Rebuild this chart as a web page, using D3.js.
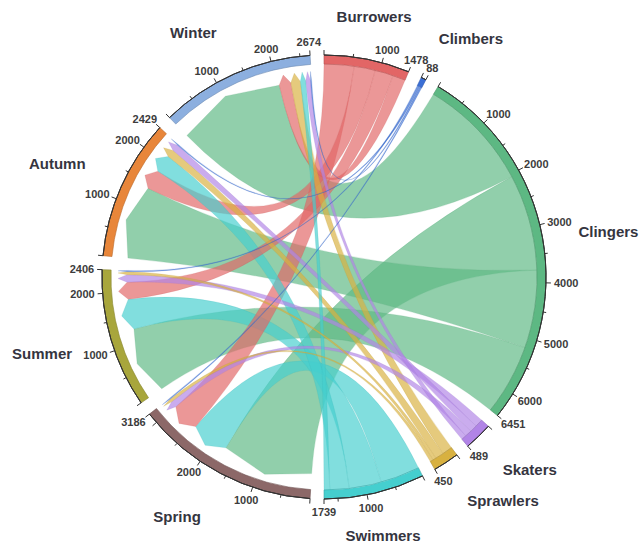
<!DOCTYPE html>
<html lang="en">
<head>
<meta charset="UTF-8">
<title>Seasonal chord diagram</title>
<style>
  body { margin: 0; background: #fff; }
  svg { display: block; font-family: "Liberation Sans", Arial, sans-serif; }
</style>
</head>
<body>
<svg width="640" height="545"></svg>
<script src="https://d3js.org/d3.v7.min.js"></script>
<script>
  // functional groups (right half) and seasons (left half)
  var groups = ["Burrowers", "Climbers", "Clingers", "Skaters", "Sprawlers", "Swimmers"];
  var seasons = ["Spring", "Summer", "Autumn", "Winter"];

  // abundance of each group in Spring, Summer, Autumn, Winter
  var burrowers = [540, 330, 380, 228];
  var climbers  = [21, 23, 22, 22];
  var clingers  = [1734, 1271, 1402, 2044];
  var skaters   = [124, 144, 130, 91];
  var sprawlers = [57, 58, 150, 185];
  var swimmers  = [710, 580, 345, 104];
  var flows = [burrowers, climbers, clingers, skaters, sprawlers, swimmers];

  var groupColors  = ["#e26666", "#3b6fd6", "#5db883", "#b184e6", "#d8b140", "#45cfcf"];
  var seasonColors = ["#8c6868", "#a8a63c", "#e8863a", "#8cafdf"];

  var cx = 324, cy = 277;
  var rOuter = 222, rInner = 213;
  var rBase = 197, rTip = 206;
  var gapDeg = 3.6;
  var rad = Math.PI / 180;

  var svg = d3.select("svg");
  var g = svg.append("g").attr("transform", "translate(" + cx + "," + cy + ")");

  // sectors: groups first, then seasons, clockwise from 12 o'clock
  var sectors = groups.map(function(name, i) {
    return { name: name, color: groupColors[i], total: d3.sum(flows[i]) };
  }).concat(seasons.map(function(name, j) {
    return { name: name, color: seasonColors[j], total: d3.sum(flows, function(f) { return f[j]; }) };
  }));

  var grand = d3.sum(sectors, d => d.total);
  var unit = (360 - gapDeg * sectors.length) / grand;
  var pos = 0;
  sectors.forEach(function(s) {
    s.start = pos;
    s.end = pos + s.total * unit;
    s.scale = d3.scaleLinear().domain([0, s.total]).range([s.start * rad, s.end * rad]);
    s.links = [];
    pos = s.end + gapDeg;
  });

  // links, sorted biggest first inside each sector
  var links = [];
  flows.forEach(function(row, i) {
    row.forEach(function(v, j) {
      var l = { gi: i, si: j, value: v };
      links.push(l);
      sectors[i].links.push(l);
      sectors[groups.length + j].links.push(l);
    });
  });
  sectors.forEach(function(s, k) {
    var acc = 0;
    s.links.sort((a, b) => b.value - a.value).forEach(function(l) {
      var a0 = s.scale(acc), a1 = s.scale(acc + l.value);
      if (k < groups.length) { l.g0 = a0; l.g1 = a1; } else { l.s0 = a0; l.s1 = a1; }
      acc += l.value;
    });
  });

  function pt(a, r) { return [r * Math.sin(a), -r * Math.cos(a)]; }

  function ribbon(l) {
    var p = d3.path();
    var s0 = pt(l.g0, rInner);
    p.moveTo(s0[0], s0[1]);
    p.arc(0, 0, rInner, l.g0 - Math.PI / 2, l.g1 - Math.PI / 2);
    var t0 = pt(l.s0, rBase), tm = pt((l.s0 + l.s1) / 2, rTip), t1 = pt(l.s1, rBase);
    p.quadraticCurveTo(0, 0, t0[0], t0[1]);
    p.lineTo(tm[0], tm[1]);
    p.lineTo(t1[0], t1[1]);
    p.quadraticCurveTo(0, 0, s0[0], s0[1]);
    p.closePath();
    return p.toString();
  }

  g.append("g").selectAll("path")
    .data(links.slice().sort((a, b) => b.value - a.value))
    .enter().append("path")
      .attr("d", ribbon)
      .attr("fill", d => groupColors[d.gi])
      .attr("fill-opacity", 0.68)
      .attr("stroke", d => d3.color(groupColors[d.gi]).darker(0.4))
      .attr("stroke-opacity", 0.35)
      .attr("stroke-width", 0.5);

  // sector rings
  var arc = d3.arc().innerRadius(rInner).outerRadius(rOuter);
  var sec = g.append("g").selectAll("g").data(sectors).enter().append("g");
  sec.append("path")
    .attr("d", d => arc({ startAngle: d.start * rad, endAngle: d.end * rad }))
    .attr("fill", d => d.color)
    .attr("stroke", d => d3.color(d.color).darker(0.6))
    .attr("stroke-width", 0.6);
  sec.append("path")
    .attr("d", d => d3.arc().innerRadius(rOuter).outerRadius(rOuter)({ startAngle: d.start * rad, endAngle: d.end * rad }))
    .attr("fill", "none")
    .attr("stroke", "#333")
    .attr("stroke-width", 1);

  // ticks every 500, labels every 1000 and at the total
  sectors.forEach(function(s) {
    var vals = d3.range(0, s.total + 1, 500);
    if (vals[vals.length - 1] !== s.total) vals.push(s.total);
    vals.forEach(function(v) {
      var a = s.scale(v);
      var major = v % 1000 === 0 || v === s.total;
      var len = major ? 5 : 3;
      var p0 = pt(a, rOuter), p1 = pt(a, rOuter + len);
      g.append("line")
        .attr("x1", p0[0]).attr("y1", p0[1])
        .attr("x2", p1[0]).attr("y2", p1[1])
        .attr("stroke", "#333").attr("stroke-width", 1);
      var labelled = v === s.total || (v % 1000 === 0 && v > 0 && s.total - v > 300);
      if (labelled) {
        var t = g.append("text")
          .text(v)
          .attr("text-anchor", "middle")
          .attr("dominant-baseline", "central")
          .attr("font-size", 11)
          .attr("font-weight", "bold")
          .attr("fill", "#3c3c3c");
        var w = t.node().getComputedTextLength();
        var lp = pt(a, rOuter + len + 3);
        t.attr("x", lp[0] + w / 2 * Math.sin(a))
         .attr("y", lp[1] - 5 * Math.cos(a));
      }
    });
  });

  // sector names: angle nudge (deg) and radius for each
  var nameAdjust = [[-0.3, 265], [5, 280], [1.2, 288], [-2.8, 282], [-5.4, 286],
                    [0.3, 265], [3.8, 281], [1.2, 292], [-0.8, 290], [-4.3, 277]];
  sectors.forEach(function(s, k) {
    var a = ((s.start + s.end) / 2 + nameAdjust[k][0]) * rad;
    var p = pt(a, nameAdjust[k][1]);
    g.append("text")
      .text(s.name)
      .attr("x", p[0]).attr("y", p[1])
      .attr("text-anchor", "middle")
      .attr("dominant-baseline", "central")
      .attr("font-size", 15)
      .attr("font-weight", "bold")
      .attr("fill", "#35353f");
  });
</script>
</body>
</html>
